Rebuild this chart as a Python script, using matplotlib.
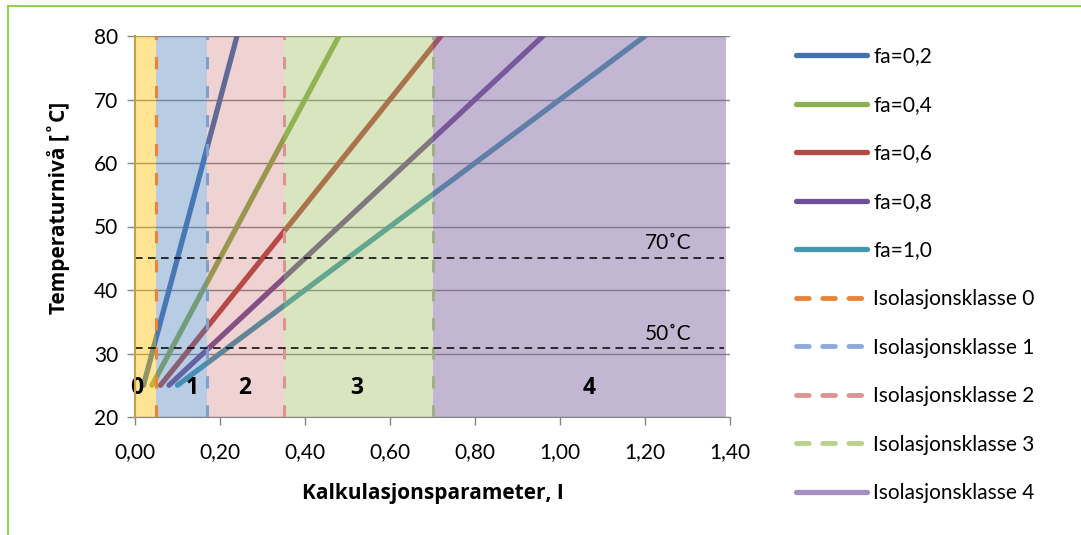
import matplotlib.pyplot as plt
import matplotlib.patches as mpatches
from matplotlib.lines import Line2D

plt.rcParams['font.family'] = ['Lato', 'DejaVu Sans']
bold_font = ['Open Sans', 'DejaVu Sans']

# data
fa_labels = ["fa=0,2", "fa=0,4", "fa=0,6", "fa=0,8", "fa=1,0"]
fa_colors = ["#4272B0", "#8BB04E", "#B54744", "#714F96", "#4198AF"]
x_start = [0.02, 0.04, 0.06, 0.08, 0.10]
x_end = [0.24, 0.48, 0.72, 0.96, 1.20]
t_start = 25
t_end = 80

class_labels = ["Isolasjonsklasse 0", "Isolasjonsklasse 1", "Isolasjonsklasse 2",
                "Isolasjonsklasse 3", "Isolasjonsklasse 4"]
class_bounds = [0.0, 0.05, 0.17, 0.35, 0.70, 1.39]
class_fill = ["#FFC000", "#4F81BD", "#C0504D", "#9BBB59", "#8064A2"]
class_alpha = [0.42, 0.40, 0.25, 0.38, 0.47]
class_line = ["#E8843C", "#7F9FCF", "#D99594", "#A3AD8A"]
legend_class_colors = ["#E8843C", "#8EAADC", "#D99694", "#B9D18E", "#A58FC0"]
class_names = ["0", "1", "2", "3", "4"]
class_name_x = [0.003, 0.135, 0.259, 0.522, 1.068]

temp_limits = [45.0, 30.8]
temp_names = ["70˚C", "50˚C"]
temp_name_y = [47.4, 33.1]

fig = plt.figure(figsize=(10.81, 5.35), dpi=100)
ax = fig.add_axes([135 / 1081, 1 - 417 / 535, 595 / 1081, 381 / 535])

# fa lines (drawn under the shaded classes)
for xs, xe, c in zip(x_start, x_end, fa_colors):
    ax.plot([xs, xe], [t_start, t_end], color=c, lw=3.8, solid_capstyle='round', zorder=1)

# insulation class areas
for i in range(5):
    ax.axvspan(class_bounds[i], class_bounds[i + 1], color=class_fill[i],
               alpha=class_alpha[i], lw=0, zorder=2)

# class boundaries
for xb, c in zip(class_bounds[1:5], class_line):
    ax.axvline(xb, color=c, lw=2.2, ls=(0, (4, 5.5)), zorder=3)

# temperature levels
for t in temp_limits:
    ax.plot([0, 1.385], [t, t], color='black', lw=1.1, ls=(0, (5, 3.5)), zorder=4)
for name, ty in zip(temp_names, temp_name_y):
    ax.text(1.20, ty, name, fontsize=15, ha='left', va='center', zorder=5)

for name, cx in zip(class_names, class_name_x):
    ax.text(cx, 24.6, name, fontsize=16.5, fontweight='bold', family=bold_font,
            ha='center', va='center', zorder=5)

ax.set_xlim(0, 1.40)
ax.set_ylim(20, 80)
ax.set_xticks([0, 0.2, 0.4, 0.6, 0.8, 1.0, 1.2, 1.4])
ax.set_xticklabels(["0,00", "0,20", "0,40", "0,60", "0,80", "1,00", "1,20", "1,40"])
ax.set_yticks(range(20, 81, 10))
ax.tick_params(labelsize=15, length=6, width=1, color='#868686', pad=6)
ax.tick_params(axis='x', pad=12)
ax.grid(axis='y', color='#868686', lw=1)
ax.set_axisbelow(True)
for s in ['top', 'right']:
    ax.spines[s].set_visible(False)
ax.spines['bottom'].set_color('#868686')
ax.spines['left'].set_color('#C8A040')
ax.spines['left'].set_linewidth(1.5)
ax.spines['left'].set_zorder(6)

ax.set_xlabel("Kalkulasjonsparameter, I", fontsize=15, fontweight='bold', family=bold_font)
ax.set_ylabel("Temperaturnivå [˚C]", fontsize=15, fontweight='bold', family=bold_font)
ax.xaxis.set_label_coords(0.5, -0.2)
ax.yaxis.set_label_coords(-0.128, 0.549)
ax.xaxis.label.set_va('center')
ax.yaxis.label.set_va('center')

handles = [Line2D([], [], color=c, lw=3.8, solid_capstyle='round') for c in fa_colors]
for i, c in enumerate(legend_class_colors):
    if i < 4:
        handles.append(Line2D([], [], color=c, lw=3.5, ls=(0, (2.6, 2.8)), dash_capstyle='round'))
    else:
        handles.append(Line2D([], [], color=c, lw=3.8, solid_capstyle='round'))
fig.legend(handles, fa_labels + class_labels, loc='upper left',
           bbox_to_anchor=(788 / 1081, 1 - 38 / 535), frameon=False, fontsize=15,
           handlelength=3.4, handletextpad=0.3, labelspacing=1.37, borderaxespad=0)

# outer chart border
fig.patches.append(mpatches.Rectangle((8 / 1081, -0.05), 1.1, 1 - 6 / 535 + 0.05,
                                      transform=fig.transFigure, fill=False,
                                      edgecolor='#92D050', lw=1.5))

fig.savefig("out.png", dpi=100)
